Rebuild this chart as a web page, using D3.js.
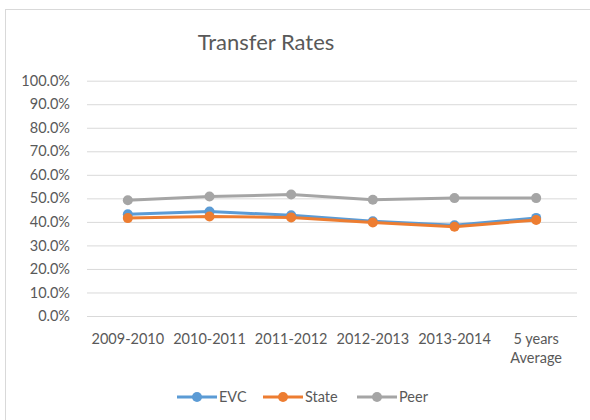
<!DOCTYPE html>
<html>
<head>
<meta charset="utf-8">
<script src="https://cdn.jsdelivr.net/npm/d3@7"></script>
<style>
  body { margin: 0; background: #fff; }
  text { font-family: Lato, "Open Sans", sans-serif; fill: #595959; }
</style>
</head>
<body>
<div id="chart"></div>
<script>
// categories and series
var categories = ["2009-2010", "2010-2011", "2011-2012", "2012-2013", "2013-2014", "5 years|Average"];
var evc   = [0.432, 0.444, 0.428, 0.403, 0.386, 0.417];
var state = [0.416, 0.423, 0.419, 0.397, 0.379, 0.408];
var peer  = [0.492, 0.508, 0.516, 0.494, 0.501, 0.501];
var yTicks = [0, 0.1, 0.2, 0.3, 0.4, 0.5, 0.6, 0.7, 0.8, 0.9, 1.0];

var series = [
  {name: "EVC", values: evc, color: "#5B9BD5"},
  {name: "State", values: state, color: "#ED7D31"},
  {name: "Peer", values: peer, color: "#A5A5A5"}
];

var W = 590, H = 420;
var plotLeft = 87, plotRight = 577, plotTop = 80.7, plotBottom = 316;

var svg = d3.select("#chart").append("svg")
  .attr("width", W).attr("height", H);

// chart frame
svg.append("rect")
  .attr("x", 5.5).attr("y", 9.5)
  .attr("width", 700).attr("height", 600)
  .attr("fill", "none").attr("stroke", "#D9D9D9");

svg.append("text")
  .attr("x", 266).attr("y", 50)
  .attr("text-anchor", "middle")
  .style("font-size", "22px")
  .text("Transfer Rates");

var x = d3.scaleBand().domain(categories).range([plotLeft, plotRight]);
var y = d3.scaleLinear().domain([0, 1]).range([plotBottom, plotTop]);

// gridlines + y labels
var yAxis = d3.axisLeft(y).tickValues(yTicks)
  .tickFormat(d3.format(".1%"))
  .tickSize(-(plotRight - plotLeft)).tickPadding(17);
var gy = svg.append("g").attr("transform", "translate(" + plotLeft + ",0)").call(yAxis);
gy.select(".domain").remove();
gy.selectAll("line").attr("stroke", "#D9D9D9");
gy.selectAll("text").style("font-size", "14.5px").attr("fill", "#595959");

// x labels
var xAxis = d3.axisBottom(x).tickSize(0).tickFormat("");
var gx = svg.append("g").attr("transform", "translate(0," + plotBottom + ")").call(xAxis);
gx.select(".domain").remove();
gx.selectAll(".tick").each(function(d) {
  var t = d3.select(this).append("text")
    .attr("text-anchor", "middle")
    .style("font-size", "14.5px");
  d.split("|").forEach(function(part, i) {
    t.append("tspan").attr("x", 0).attr("y", 28 + i * 19).text(part);
  });
});

var cx = function(i) { return x(categories[i]) + x.bandwidth() / 2; };
var line = d3.line()
  .x(function(d, i) { return cx(i); })
  .y(function(d) { return y(d); });

series.forEach(function(s) {
  var g = svg.append("g");
  g.append("path")
    .attr("d", line(s.values))
    .attr("fill", "none")
    .attr("stroke", s.color)
    .attr("stroke-width", 3)
    .attr("stroke-linejoin", "round");
  g.selectAll("circle").data(s.values).enter().append("circle")
    .attr("cx", function(d, i) { return cx(i); })
    .attr("cy", function(d) { return y(d); })
    .attr("r", 5)
    .attr("fill", s.color);
});

// legend
var legendX = [177, 263, 357];
var leg = svg.append("g").attr("transform", "translate(0,397)");
series.forEach(function(s, i) {
  var g = leg.append("g").attr("transform", "translate(" + legendX[i] + ",0)");
  g.append("line").attr("x1", 0).attr("x2", 40)
    .attr("stroke", s.color).attr("stroke-width", 3);
  g.append("circle").attr("cx", 20).attr("r", 5).attr("fill", s.color);
  g.append("text").attr("x", 42).attr("y", 5)
    .style("font-size", "14.5px").text(s.name);
});
</script>
</body>
</html>
